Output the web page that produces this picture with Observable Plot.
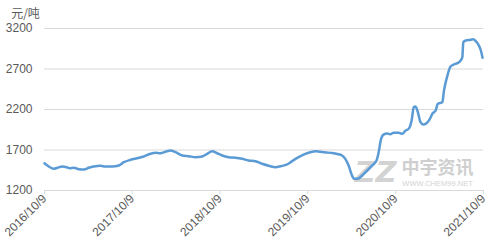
<!DOCTYPE html>
<html><head><meta charset="utf-8">
<script src="https://cdn.jsdelivr.net/npm/d3@7"></script>
<script src="https://cdn.jsdelivr.net/npm/@observablehq/plot@0.6"></script>
<style>body{margin:0;background:#fff;} #chart svg{display:block;}</style>
</head><body><div id="chart"></div>
<script>
const dates = [
"2016-10-09","2016-10-27","2016-11-17","2016-12-01","2016-12-22","2017-01-09","2017-01-22","2017-02-08","2017-03-01","2017-03-22",
"2017-04-11","2017-05-02","2017-05-30","2017-06-20","2017-07-18","2017-08-14","2017-09-04","2017-10-02","2017-10-29","2017-11-26",
"2017-12-24","2018-01-14","2018-02-03","2018-02-24","2018-03-17","2018-04-07","2018-05-05","2018-06-01","2018-06-29","2018-07-27",
"2018-08-17","2018-09-06","2018-09-27","2018-10-18","2018-11-14","2018-12-12","2019-01-09","2019-02-05","2019-03-05","2019-04-02",
"2019-04-30","2019-05-28","2019-06-18","2019-07-15","2019-08-05","2019-09-01","2019-09-29","2019-10-20","2019-11-10","2019-11-30",
"2019-12-25","2020-01-19","2020-02-09","2020-02-29","2020-03-13","2020-03-27","2020-04-10","2020-04-20","2020-05-04","2020-05-22",
"2020-06-12","2020-07-03","2020-07-21","2020-07-30","2020-08-09","2020-08-19","2020-09-03","2020-09-16","2020-09-30","2020-10-22",
"2020-11-05","2020-11-19","2020-12-02","2020-12-14","2020-12-23","2020-12-30","2021-01-09","2021-01-20","2021-01-31","2021-02-14",
"2021-02-28","2021-03-10","2021-03-24","2021-04-02","2021-04-21","2021-04-27","2021-05-12","2021-05-25","2021-06-08","2021-06-22",
"2021-07-06","2021-07-13","2021-07-17","2021-07-27","2021-08-17","2021-08-28","2021-09-07","2021-09-16","2021-09-28","2021-10-05"
];
const prices = [
1537,1496,1468,1480,1496,1488,1475,1480,1463,1459,
1480,1496,1505,1496,1496,1509,1549,1579,1599,1620,
1653,1665,1660,1678,1694,1673,1632,1624,1611,1620,
1653,1685,1660,1632,1611,1604,1591,1570,1562,1530,
1505,1488,1500,1521,1562,1611,1653,1673,1685,1678,
1670,1662,1650,1632,1591,1509,1385,1344,1344,1385,
1447,1509,1570,1673,1838,1890,1905,1895,1912,1912,
1900,1941,1962,2064,2228,2237,2167,2043,2015,2031,
2085,2147,2188,2270,2290,2420,2620,2730,2756,2772,
2805,2846,3031,3052,3060,3068,3043,3011,2928,2838
];
const yTicks = [1200, 1700, 2200, 2700, 3200];
const xTickLabels = ["2016/10/9", "2017/10/9", "2018/10/9", "2019/10/9", "2020/10/9", "2021/10/9"];
const unitLabel = "元/吨";
const brandName = "中宇资讯";
const brandSite = "WWW.CHEM99.NET";
const brandLogo = "ZZ";

const parseSlash = s => { const [y, m, d] = s.split("/").map(Number); return new Date(Date.UTC(y, m - 1, d)); };
const xTicks = xTickLabels.map(parseSlash);
const fmt = d => `${d.getUTCFullYear()}/${d.getUTCMonth() + 1}/${d.getUTCDate()}`;
const data = dates.map((d, i) => ({date: new Date(d + "T00:00:00Z"), price: prices[i]}));

const chart = Plot.plot({
  width: 500,
  height: 251,
  marginLeft: 44,
  marginRight: 17,
  marginTop: 28,
  marginBottom: 61,
  style: {fontFamily: "'Liberation Sans', Arial, sans-serif", fontSize: "12px", color: "#595959", background: "#fff"},
  x: {type: "utc", domain: [xTicks[0], xTicks[xTicks.length - 1]]},
  y: {domain: [1200, 3200]},
  marks: [
    Plot.gridY(yTicks, {stroke: "#d9d9d9", strokeOpacity: 1, strokeWidth: 1}),
    Plot.axisY(yTicks, {tickSize: 0, tickPadding: 12, label: null, fill: "#595959", fontSize: 12, tickFormat: d => String(d)}),
    Plot.axisX(xTicks, {tickSize: 4, stroke: "#d9d9d9", strokeOpacity: 1, tickRotate: -45, tickFormat: fmt, label: null, fill: "#595959", fontSize: 12, tickPadding: 2}),
    Plot.ruleY([1200], {stroke: "#d9d9d9", strokeWidth: 1}),
    Plot.text([brandLogo], {text: d => d, frameAnchor: "bottom-right", textAnchor: "middle", lineAnchor: "middle", dx: -108, dy: -18, fontSize: 29, fontWeight: "bold", fontStyle: "italic", fill: "#d3d3d3", fontFamily: "'DejaVu Sans', sans-serif", letterSpacing: "-7px"}),
    Plot.text([brandName], {text: d => d, frameAnchor: "bottom-right", textAnchor: "middle", lineAnchor: "middle", dx: -46, dy: -22, fontSize: 18, fontWeight: "bold", fill: "#cfcfcf", fontFamily: "'Noto Sans CJK SC', sans-serif"}),
    Plot.text([brandSite], {text: d => d, frameAnchor: "bottom-right", textAnchor: "middle", lineAnchor: "middle", dx: -46, dy: -7, fontSize: 7.5, fill: "#d3d3d3"}),
    Plot.line(data, {x: "date", y: "price", stroke: "#5b9bd5", strokeWidth: 2.5, curve: "monotone-x"}),
    Plot.text([unitLabel], {text: d => d, frameAnchor: "top-left", textAnchor: "middle", lineAnchor: "middle", dx: -19, dy: -14, fontSize: 12, fill: "#595959", fontFamily: "'Noto Sans CJK SC', sans-serif"})
  ]
});
document.getElementById("chart").append(chart);
</script>
</body></html>
